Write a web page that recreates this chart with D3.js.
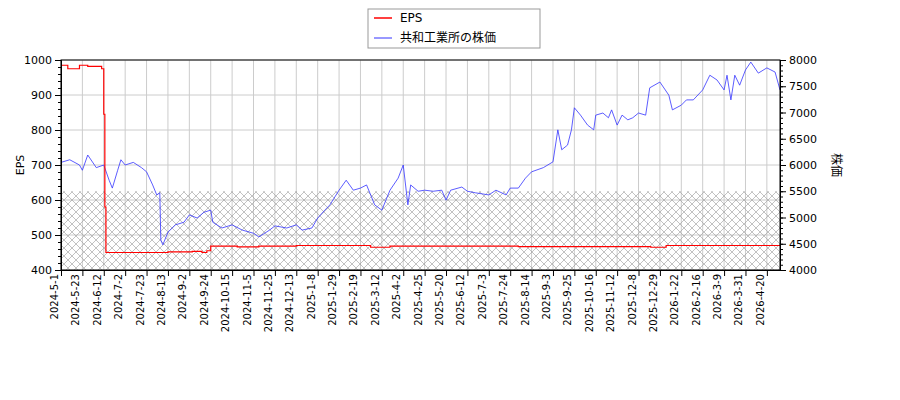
<!DOCTYPE html><html><head><meta charset="utf-8"><script src="https://cdn.jsdelivr.net/npm/d3@7"></script>
<style>body{margin:0;background:#fff;font-family:"DejaVu Sans",sans-serif}</style></head><body><svg width="900" height="400"></svg>
<script>
const tickLabels=["2024-5-1","2024-5-23","2024-6-12","2024-7-2","2024-7-23","2024-8-13","2024-9-2","2024-9-24","2024-10-15","2024-11-5","2024-11-25","2024-12-13","2025-1-8","2025-1-29","2025-2-19","2025-3-12","2025-4-2","2025-4-25","2025-5-20","2025-6-12","2025-7-3","2025-7-24","2025-8-14","2025-9-3","2025-9-25","2025-10-16","2025-11-12","2025-12-8","2025-12-29","2026-1-22","2026-2-16","2026-3-9","2026-3-31","2026-4-20"];
const lastDate="2026-4-28";
const priceDates=["2024-5-1","2024-5-10","2024-5-20","2024-5-23","2024-5-28","2024-6-5","2024-6-12","2024-6-17","2024-6-20","2024-6-25","2024-6-28","2024-7-2","2024-7-10","2024-7-18","2024-7-23","2024-7-29","2024-8-2","2024-8-5","2024-8-6","2024-8-8","2024-8-13","2024-8-20","2024-8-28","2024-9-2","2024-9-10","2024-9-17","2024-9-24","2024-9-26","2024-10-5","2024-10-15","2024-10-25","2024-11-5","2024-11-10","2024-11-20","2024-11-25","2024-12-5","2024-12-13","2024-12-20","2025-1-1","2025-1-8","2025-1-15","2025-1-20","2025-1-29","2025-2-5","2025-2-12","2025-2-19","2025-2-25","2025-3-5","2025-3-12","2025-3-20","2025-3-28","2025-4-2","2025-4-7","2025-4-10","2025-4-18","2025-4-25","2025-5-5","2025-5-15","2025-5-20","2025-5-25","2025-6-6","2025-6-12","2025-6-20","2025-7-3","2025-7-10","2025-7-20","2025-7-24","2025-8-1","2025-8-8","2025-8-14","2025-8-25","2025-9-3","2025-9-8","2025-9-12","2025-9-18","2025-9-22","2025-9-25","2025-10-1","2025-10-8","2025-10-14","2025-10-16","2025-10-25","2025-11-1","2025-11-5","2025-11-12","2025-11-18","2025-11-25","2025-12-1","2025-12-8","2025-12-15","2025-12-19","2025-12-29","2026-1-8","2026-1-12","2026-1-22","2026-1-28","2026-2-5","2026-2-16","2026-2-23","2026-3-2","2026-3-9","2026-3-12","2026-3-16","2026-3-20","2026-3-25","2026-3-31","2026-4-5","2026-4-12","2026-4-20","2026-4-25","2026-4-28"];
const priceValues=[6050,6100,6000,5900,6190,5950,6000,5710,5560,5900,6100,6000,6050,5950,5870,5620,5430,5470,4570,4480,4720,4860,4910,5050,4990,5100,5140,4910,4800,4860,4760,4700,4630,4760,4840,4800,4860,4760,4800,4990,5140,5240,5520,5710,5520,5560,5620,5240,5140,5520,5750,6000,5240,5620,5500,5520,5500,5520,5330,5520,5580,5500,5470,5430,5520,5430,5560,5560,5750,5870,5950,6060,6670,6290,6380,6670,7090,6950,6760,6670,6950,6990,6900,7050,6760,6950,6860,6900,6990,6950,7470,7580,7330,7050,7140,7240,7240,7430,7710,7620,7430,7710,7240,7710,7520,7810,7960,7750,7850,7770,7430];
const epsDates=["2024-5-1","2024-5-8","2024-5-20","2024-5-28","2024-6-10","2024-6-12","2024-6-13","2024-6-14","2024-8-13","2024-9-5","2024-9-15","2024-9-20","2024-9-24","2024-10-20","2024-11-10","2024-12-13","2025-3-1","2025-3-20","2025-8-1","2025-12-20","2026-1-5","2026-4-28"];
const epsValues=[985,975,985,982,975,845,580,450,452,453,450,455,468,466,468,470,465,468,467,465,470,470];
const p=d3.timeParse("%Y-%m-%d");
const svg=d3.select("svg");
const L=61,R=780,T=60,B=270,step=21.39;
const ticks=tickLabels.map(p);
const x=d3.scaleTime().domain([...ticks,p(lastDate)]).range([...ticks.map((d,i)=>L+i*step),R]);
const yl=d3.scaleLinear().domain([400,1000]).range([B,T]);
const yr=d3.scaleLinear().domain([4000,8000]).range([B,T]);
const defs=svg.append("defs");
const pat=defs.append("pattern").attr("id","h").attr("width",8).attr("height",8).attr("patternUnits","userSpaceOnUse");
pat.append("path").attr("d","M0,0L8,8M8,0L0,8").attr("stroke","#999").attr("stroke-width",0.6);
svg.append("g").selectAll("line").data(ticks).join("line").attr("x1",d=>x(d)).attr("x2",d=>x(d)).attr("y1",T).attr("y2",B).attr("stroke","#ccc");
svg.append("g").selectAll("line").data(d3.range(400,1001,100)).join("line").attr("x1",L).attr("x2",R).attr("y1",d=>yl(d)).attr("y2",d=>yl(d)).attr("stroke","#ccc");
svg.append("rect").attr("x",L).attr("width",R-L).attr("y",yl(625)).attr("height",B-yl(625)).attr("fill","url(#h)");
const lp=d3.line().x((d,i)=>x(p(priceDates[i]))).y(d=>yr(d));
svg.append("path").attr("d",lp(priceValues)).attr("fill","none").attr("stroke","#3333ff").attr("stroke-width",0.8);
const le=d3.line().curve(d3.curveStepAfter).x((d,i)=>x(p(epsDates[i]))).y(d=>yl(d));
svg.append("path").attr("d",le(epsValues)).attr("fill","none").attr("stroke","red").attr("stroke-width",1.2);
svg.append("rect").attr("x",L).attr("y",T).attr("width",R-L).attr("height",B-T).attr("fill","none").attr("stroke","#000");
const ax=svg.append("g").attr("transform",`translate(0,${B})`).call(d3.axisBottom(x).tickValues(ticks).tickFormat((d,i)=>tickLabels[i]).tickSizeOuter(0));
ax.selectAll("text").attr("transform","rotate(-90)").attr("text-anchor","end").attr("dx","-4").attr("dy","-0.35em").attr("x",0).attr("y",0).style("font-size","10px").style("font-family","DejaVu Sans");
const fmt=d3.format("d");
svg.append("g").attr("transform",`translate(${L},0)`).call(d3.axisLeft(yl).tickValues(d3.range(400,1001,100)).tickFormat(fmt).tickSizeOuter(0)).call(g=>g.selectAll("text").style("font-size","11px").style("font-family","DejaVu Sans"));
svg.append("g").attr("transform",`translate(${L},0)`).call(d3.axisLeft(yl).tickValues(d3.range(400,1001,20)).tickFormat("").tickSize(3));
svg.append("g").attr("transform",`translate(${R},0)`).call(d3.axisRight(yr).tickValues(d3.range(4000,8001,500)).tickFormat(fmt).tickSizeOuter(0)).call(g=>g.selectAll("text").style("font-size","11px").style("font-family","DejaVu Sans"));
svg.append("g").attr("transform",`translate(${R},0)`).call(d3.axisRight(yr).tickValues(d3.range(4000,8001,100)).tickFormat("").tickSize(3));
svg.selectAll(".domain").attr("stroke","#000");
svg.append("text").attr("transform","translate(24,165) rotate(-90)").attr("text-anchor","middle").style("font-size","11px").text("EPS");
svg.append("text").attr("transform","translate(832,165) rotate(90)").attr("text-anchor","middle").style("font-size","12px").style("font-family","Noto Sans CJK JP").text("株価");
const lg=svg.append("g");
lg.append("rect").attr("x",368).attr("y",9).attr("width",172).attr("height",39).attr("fill","#fff").attr("stroke","#999");
lg.append("line").attr("x1",374).attr("x2",392).attr("y1",18).attr("y2",18).attr("stroke","red").attr("stroke-width",1.5);
lg.append("line").attr("x1",374).attr("x2",392).attr("y1",38).attr("y2",38).attr("stroke","#3333ff");
lg.append("text").attr("x",400).attr("y",22).style("font-size","12px").text("EPS");
lg.append("text").attr("x",400).attr("y",42).style("font-size","12px").style("font-family","Noto Sans CJK JP").text("共和工業所の株価");
</script></body></html>
